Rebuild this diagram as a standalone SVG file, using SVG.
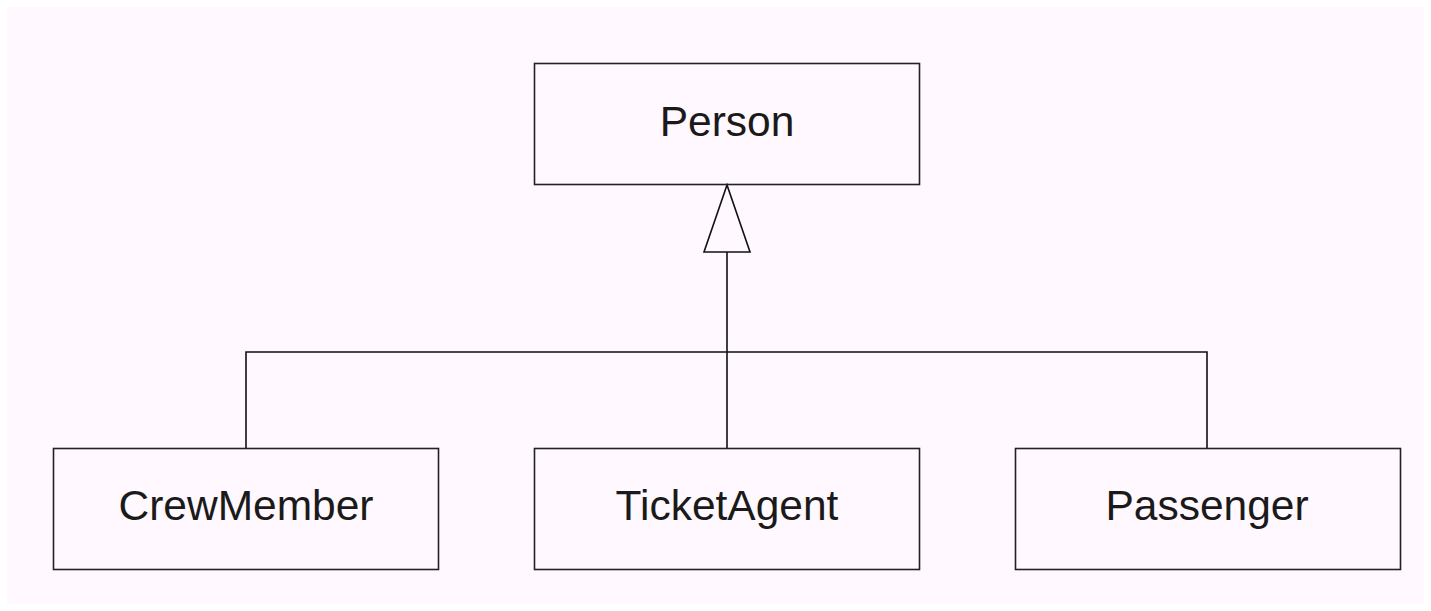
<svg xmlns="http://www.w3.org/2000/svg" width="1431" height="611" viewBox="0 0 1431 611">
<style>
.box{fill:none;stroke:#222;stroke-width:1.6}
.lbl{font-family:"Liberation Sans",Arial,sans-serif;font-size:42.5px;fill:#1a1a1a;text-anchor:middle}
.conn{fill:none;stroke:#111;stroke-width:1.6}
</style>
<rect x="0" y="0" width="1431" height="611" fill="#ffffff"/>
<rect x="7" y="7" width="1417" height="597" fill="#fff8ff"/>
<g id="connectors">
<path class="conn" d="M727,252 V448 M246,448 V352 H1207 V448"/>
<polygon class="conn" fill="#fff8ff" points="727,185 704,252 750,252"/>
</g>
<g id="person">
<rect class="box" x="534.5" y="63.5" width="385" height="121"/>
<text class="lbl" x="727" y="136">Person</text>
</g>
<g id="crewmember">
<rect class="box" x="53.5" y="448.5" width="385" height="121"/>
<text class="lbl" x="246" y="520">CrewMember</text>
</g>
<g id="ticketagent">
<rect class="box" x="534.5" y="448.5" width="385" height="121"/>
<text class="lbl" x="727" y="520">TicketAgent</text>
</g>
<g id="passenger">
<rect class="box" x="1015.5" y="448.5" width="385" height="121"/>
<text class="lbl" x="1207" y="520">Passenger</text>
</g>
</svg>
